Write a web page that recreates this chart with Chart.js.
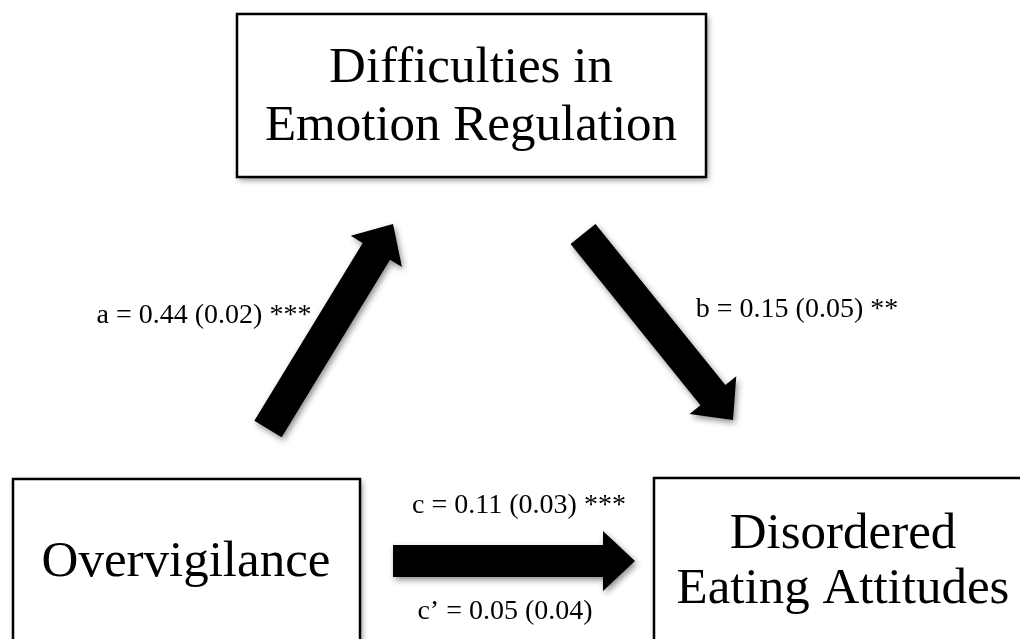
<!DOCTYPE html>
<html>
<head>
<meta charset="utf-8">
<script src="https://cdn.jsdelivr.net/npm/chart.js@4"></script>
<style>
  body { margin: 0; background: #fff; }
  canvas { display: block; }
</style>
</head>
<body>
<canvas id="pathChart" width="1020" height="639"></canvas>
<script>
// variables in the mediation model
const nodeLabels = [
    ['Difficulties in', 'Emotion Regulation'],
    ['Overvigilance'],
    ['Disordered', 'Eating Attitudes']
];

// path coefficients (estimate, standard error, significance)
const pathNames = ['a', 'b', 'c', 'c\u2019'];
const pathCoefs = [0.44, 0.15, 0.11, 0.05];
const pathSE = [0.02, 0.05, 0.03, 0.04];
const pathStars = ['***', '**', '***', ''];

// layout, in page units (x to the right, y down)
const nodeBoxes = [[237, 14, 706, 177], [13, 479, 360, 660], [654, 478, 1040, 660]];
const nodeTextX = [471, 186, 843];
const nodeTextY = [[82, 140], [576], [548, 603]];
const arrows = [
    { from: [268, 429], to: [393, 224] },
    { from: [583, 234], to: [733, 420] },
    { from: [393, 561], to: [635, 561] }
];
const labelPos = [[204, 323], [797, 317], [519, 513], [505, 619]];

function pathText(i) {
    var t = pathNames[i] + ' = ' + pathCoefs[i].toFixed(2) + ' (' + pathSE[i].toFixed(2) + ')';
    if (pathStars[i]) t += ' ' + pathStars[i];
    return t;
}

function setShadow(ctx) {
    ctx.shadowColor = 'rgba(0,0,0,0.45)';
    ctx.shadowBlur = 6;
    ctx.shadowOffsetX = 2;
    ctx.shadowOffsetY = 3;
}

const diagramPlugin = {
    id: 'diagram',
    afterDatasetsDraw(chart) {
        const ctx = chart.ctx;
        const xs = chart.scales.x;
        const ys = chart.scales.y;
        const px = v => xs.getPixelForValue(v);
        const py = v => ys.getPixelForValue(v);

        // boxes
        nodeBoxes.forEach(function (b, i) {
            var x0 = px(b[0]), y0 = py(b[1]), x1 = px(b[2]), y1 = py(b[3]);
            ctx.save();
            setShadow(ctx);
            ctx.fillStyle = '#fff';
            ctx.fillRect(x0, y0, x1 - x0, y1 - y0);
            ctx.restore();
            ctx.save();
            ctx.lineWidth = 2.5;
            ctx.strokeStyle = '#000';
            ctx.strokeRect(x0, y0, x1 - x0, y1 - y0);
            ctx.fillStyle = '#000';
            ctx.font = '51px "Liberation Serif"';
            ctx.textAlign = 'center';
            ctx.textBaseline = 'alphabetic';
            nodeLabels[i].forEach(function (line, j) {
                ctx.fillText(line, px(nodeTextX[i]), py(nodeTextY[i][j]));
            });
            ctx.restore();
        });

        // block arrows
        const shaftW = 32, headW = 60, headL = 32;
        arrows.forEach(function (a) {
            var x0 = px(a.from[0]), y0 = py(a.from[1]);
            var x1 = px(a.to[0]), y1 = py(a.to[1]);
            var dx = x1 - x0, dy = y1 - y0;
            var len = Math.sqrt(dx * dx + dy * dy);
            var ux = dx / len, uy = dy / len;
            var nx = -uy, ny = ux;
            var bx = x1 - ux * headL, by = y1 - uy * headL;
            ctx.save();
            setShadow(ctx);
            ctx.fillStyle = '#000';
            ctx.beginPath();
            ctx.moveTo(x0 + nx * shaftW / 2, y0 + ny * shaftW / 2);
            ctx.lineTo(bx + nx * shaftW / 2, by + ny * shaftW / 2);
            ctx.lineTo(bx + nx * headW / 2, by + ny * headW / 2);
            ctx.lineTo(x1, y1);
            ctx.lineTo(bx - nx * headW / 2, by - ny * headW / 2);
            ctx.lineTo(bx - nx * shaftW / 2, by - ny * shaftW / 2);
            ctx.lineTo(x0 - nx * shaftW / 2, y0 - ny * shaftW / 2);
            ctx.closePath();
            ctx.fill();
            ctx.restore();
        });

        // coefficient labels
        ctx.save();
        ctx.fillStyle = '#000';
        ctx.font = '28px "Liberation Serif"';
        ctx.textAlign = 'center';
        ctx.textBaseline = 'alphabetic';
        labelPos.forEach(function (p, i) {
            ctx.fillText(pathText(i), px(p[0]), py(p[1]));
        });
        ctx.restore();
    }
};

new Chart(document.getElementById('pathChart'), {
    type: 'scatter',
    data: {
        datasets: [{
            data: nodeBoxes.map((b, i) => ({ x: nodeTextX[i], y: (b[1] + b[3]) / 2 })),
            pointRadius: 0
        }]
    },
    options: {
        responsive: false,
        animation: false,
        devicePixelRatio: 1,
        layout: { padding: 0 },
        plugins: {
            legend: { display: false },
            tooltip: { enabled: false }
        },
        scales: {
            x: { type: 'linear', min: 0, max: 1020, display: false },
            y: { type: 'linear', min: 0, max: 639, reverse: true, display: false }
        }
    },
    plugins: [diagramPlugin]
});
</script>
</body>
</html>
